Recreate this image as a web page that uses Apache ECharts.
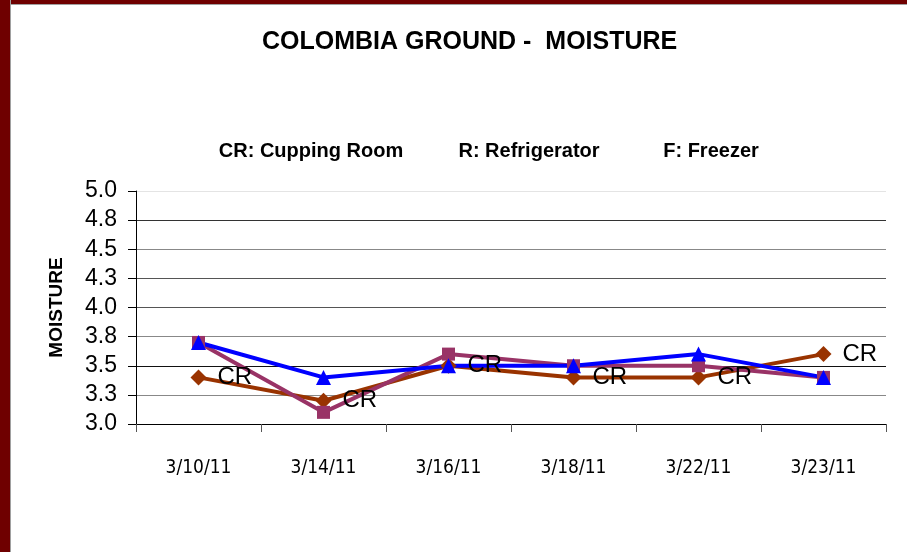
<!DOCTYPE html>
<html>
<head>
<meta charset="utf-8">
<script src="https://cdn.jsdelivr.net/npm/echarts@6/dist/echarts.min.js"></script>
<style>
  html, body { margin: 0; padding: 0; background: #fff; }
  #wrap { position: relative; width: 907px; height: 552px; overflow: hidden; }
  #chart { position: absolute; left: 0; top: 0; width: 907px; height: 552px; }
  .frame-left { position: absolute; left: 0; top: 0; width: 10px; height: 552px; background: #6f0000; border-right: 1px solid #a0a0a0; }
  .frame-top { position: absolute; left: 0; top: 0; width: 907px; height: 4px; background: #6f0000; border-bottom: 1px solid #a0a0a0; }
</style>
</head>
<body>
<div id="wrap">
  <div id="chart"></div>
  <div class="frame-top"></div>
  <div class="frame-left"></div>
</div>
<script>
// Data
const dates = ['3/10/11', '3/14/11', '3/16/11', '3/18/11', '3/22/11', '3/23/11']
const cuppingRoom = [3.4, 3.2, 3.5, 3.4, 3.4, 3.6]
const refrigerator = [3.7, 3.1, 3.6, 3.5, 3.5, 3.4]
const freezer = [3.7, 3.4, 3.5, 3.5, 3.6, 3.4]
const yTickLabels = ['3.0', '3.3', '3.5', '3.8', '4.0', '4.3', '4.5', '4.8', '5.0']
const legendNotes = ['CR: Cupping Room', 'R: Refrigerator', 'F: Freezer']

const chart = echarts.init(document.getElementById('chart'))

const noteStyle = (text) => ({
  text,
  fill: '#000',
  font: 'bold 20px "Liberation Sans", Arial, sans-serif',
  textAlign: 'center',
  textVerticalAlign: 'middle'
})

const lineSeries = (name, data, color, symbol, size) => ({
  name,
  type: 'line',
  data,
  symbol,
  symbolSize: size,
  lineStyle: { color, width: 4 },
  itemStyle: { color },
  z: 3
})

chart.setOption({
  animation: false,
  title: {
    text: 'COLOMBIA GROUND -  MOISTURE',
    left: 257,
    top: 25,
    textStyle: {
      fontFamily: '"Liberation Sans", Arial, sans-serif',
      fontSize: 25,
      fontWeight: 'bold',
      color: '#000'
    }
  },
  graphic: [
    { type: 'text', x: 311, y: 151, style: noteStyle(legendNotes[0]) },
    { type: 'text', x: 529, y: 151, style: noteStyle(legendNotes[1]) },
    { type: 'text', x: 711, y: 151, style: noteStyle(legendNotes[2]) }
  ],
  grid: {
    left: 136,
    right: 21,
    top: 191,
    bottom: 128
  },
  xAxis: {
    type: 'category',
    data: dates,
    boundaryGap: true,
    axisLine: { lineStyle: { color: '#000', width: 1 } },
    axisTick: { show: true, length: 8, lineStyle: { color: '#555' } },
    axisLabel: {
      margin: 35,
      color: '#000',
      fontFamily: '"Liberation Sans Narrow", "DejaVu Sans Condensed", sans-serif',
      fontSize: 19
    }
  },
  yAxis: {
    type: 'value',
    min: 3,
    max: 5,
    interval: 0.25,
    name: 'MOISTURE',
    nameLocation: 'middle',
    nameGap: 70,
    nameTextStyle: {
      fontFamily: '"Liberation Sans", Arial, sans-serif',
      fontSize: 19,
      fontWeight: 'bold',
      color: '#000'
    },
    axisLine: { show: true, lineStyle: { color: '#000', width: 1 } },
    axisTick: { show: true, length: 8, lineStyle: { color: '#000' } },
    axisLabel: {
      margin: 19,
      color: '#000',
      fontFamily: '"Liberation Sans", Arial, sans-serif',
      fontSize: 23,
      formatter: (v) => yTickLabels[Math.round((v - 3) / 0.25)]
    },
    splitLine: {
      show: true,
      lineStyle: {
        color: ['#000', '#888', '#111', '#888', '#555', '#555', '#888', '#333', '#e4e4e4'],
        width: 1
      }
    }
  },
  series: [
    {
      ...lineSeries('CR', cuppingRoom, '#993300', 'diamond', 16),
      label: {
        show: true,
        position: 'right',
        distance: 11,
        formatter: 'CR',
        color: '#000',
        fontFamily: '"Liberation Sans", Arial, sans-serif',
        fontSize: 24
      }
    },
    lineSeries('R', refrigerator, '#993366', 'rect', 13),
    lineSeries('F', freezer, '#0000ff', 'triangle', 15)
  ]
})
</script>
</body>
</html>
